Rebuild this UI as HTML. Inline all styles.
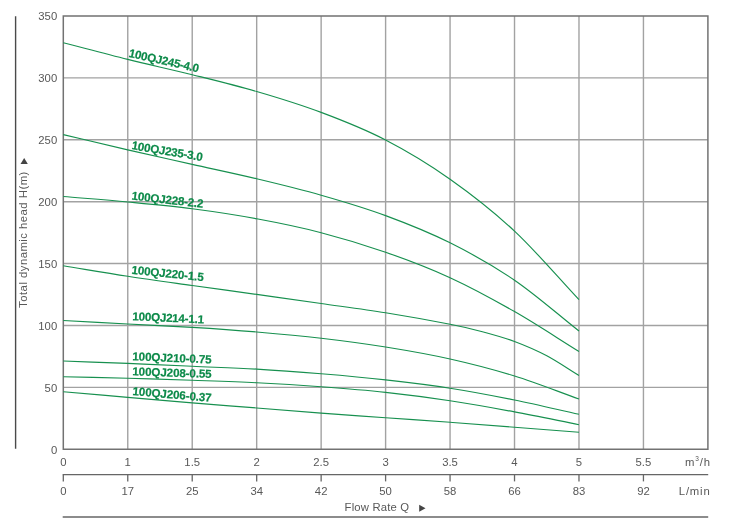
<!DOCTYPE html>
<html lang="en"><head><meta charset="utf-8"><title>100QJ2 Performance Curves</title>
<style>html,body{margin:0;padding:0;background:#fff}body{width:750px;height:532px;overflow:hidden}svg{display:block;will-change:transform}text{font-family:"Liberation Sans",sans-serif}.t{font-size:11.3px;fill:#585858}.l{font-size:11.6px;font-weight:bold;fill:#0c8a49;stroke:#0c8a49;stroke-width:0.2px}</style></head><body>
<svg width="750" height="532" viewBox="0 0 750 532">
<rect width="750" height="532" fill="#fff"/>
<g stroke="#a2a2a2" stroke-width="1.4" fill="none">
<line x1="127.76" y1="16.00" x2="127.76" y2="449.25"/>
<line x1="192.22" y1="16.00" x2="192.22" y2="449.25"/>
<line x1="256.68" y1="16.00" x2="256.68" y2="449.25"/>
<line x1="321.14" y1="16.00" x2="321.14" y2="449.25"/>
<line x1="385.60" y1="16.00" x2="385.60" y2="449.25"/>
<line x1="450.06" y1="16.00" x2="450.06" y2="449.25"/>
<line x1="514.52" y1="16.00" x2="514.52" y2="449.25"/>
<line x1="578.98" y1="16.00" x2="578.98" y2="449.25"/>
<line x1="643.44" y1="16.00" x2="643.44" y2="449.25"/>
<line x1="63.30" y1="77.89" x2="707.90" y2="77.89"/>
<line x1="63.30" y1="139.79" x2="707.90" y2="139.79"/>
<line x1="63.30" y1="201.68" x2="707.90" y2="201.68"/>
<line x1="63.30" y1="263.57" x2="707.90" y2="263.57"/>
<line x1="63.30" y1="325.46" x2="707.90" y2="325.46"/>
<line x1="63.30" y1="387.36" x2="707.90" y2="387.36"/>
</g>
<rect x="63.30" y="16.00" width="644.60" height="433.25" fill="none" stroke="#727272" stroke-width="1.5"/>
<g stroke="#17904f" stroke-width="1.15" fill="none">
<path d="M63.30 42.70 C84.79 48.27 106.27 54.07 127.76 59.40 C149.25 64.73 170.73 69.35 192.22 74.70 C213.71 80.05 235.19 85.22 256.68 91.50 C278.17 97.78 299.65 104.32 321.14 112.40 C342.63 120.48 364.11 128.87 385.60 140.00 C407.09 151.13 428.57 164.02 450.06 179.20 C471.55 194.38 493.03 211.02 514.52 231.10 C536.01 251.18 557.49 276.83 578.98 299.70"/>
<path d="M63.30 134.60 C84.79 139.70 106.27 144.93 127.76 149.90 C149.25 154.87 170.73 159.58 192.22 164.40 C213.71 169.22 235.19 173.67 256.68 178.80 C278.17 183.93 299.65 189.07 321.14 195.20 C342.63 201.33 364.11 207.67 385.60 215.60 C407.09 223.53 428.57 232.03 450.06 242.80 C471.55 253.57 493.03 265.50 514.52 280.20 C536.01 294.90 557.49 314.07 578.98 331.00"/>
<path d="M63.30 196.50 C84.79 198.33 106.27 199.95 127.76 202.00 C149.25 204.05 170.73 206.00 192.22 208.80 C213.71 211.60 235.19 214.82 256.68 218.80 C278.17 222.78 299.65 227.13 321.14 232.70 C342.63 238.27 364.11 244.70 385.60 252.20 C407.09 259.70 428.57 267.80 450.06 277.70 C471.55 287.60 493.03 299.30 514.52 311.60 C536.01 323.90 557.49 338.20 578.98 351.50"/>
<path d="M63.30 265.80 C84.79 269.30 106.27 273.02 127.76 276.30 C149.25 279.58 170.73 282.48 192.22 285.50 C213.71 288.52 235.19 291.40 256.68 294.40 C278.17 297.40 299.65 300.43 321.14 303.50 C342.63 306.57 364.11 309.33 385.60 312.80 C407.09 316.27 433.93 321.15 450.06 324.30 C466.19 327.45 471.66 328.83 482.40 331.70 C493.14 334.57 503.79 337.48 514.52 341.50 C525.25 345.52 536.06 350.12 546.80 355.80 C557.54 361.48 568.25 369.00 578.98 375.60"/>
<path d="M63.30 320.50 C84.79 321.67 106.27 322.85 127.76 324.00 C149.25 325.15 170.73 326.07 192.22 327.40 C213.71 328.73 235.19 330.20 256.68 332.00 C278.17 333.80 299.65 335.70 321.14 338.20 C342.63 340.70 364.11 343.53 385.60 347.00 C407.09 350.47 428.57 354.17 450.06 359.00 C471.55 363.83 493.03 369.33 514.52 376.00 C536.01 382.67 557.49 391.33 578.98 399.00"/>
<path d="M63.30 361.00 C84.79 361.80 106.27 362.52 127.76 363.40 C149.25 364.28 170.73 365.35 192.22 366.30 C213.71 367.25 235.19 367.85 256.68 369.10 C278.17 370.35 299.65 372.00 321.14 373.80 C342.63 375.60 364.11 377.50 385.60 379.90 C407.09 382.30 428.57 384.85 450.06 388.20 C471.55 391.55 493.03 395.65 514.52 400.00 C536.01 404.35 557.49 409.53 578.98 414.30"/>
<path d="M63.30 376.70 C84.79 377.20 106.27 377.60 127.76 378.20 C149.25 378.80 170.73 379.53 192.22 380.30 C213.71 381.07 235.19 381.72 256.68 382.80 C278.17 383.88 299.65 385.20 321.14 386.80 C342.63 388.40 364.11 390.07 385.60 392.40 C407.09 394.73 428.57 397.55 450.06 400.80 C471.55 404.05 493.03 407.92 514.52 411.90 C536.01 415.88 557.49 420.43 578.98 424.70"/>
<path d="M63.30 391.70 C84.79 393.60 106.27 395.53 127.76 397.40 C149.25 399.27 170.73 401.13 192.22 402.90 C213.71 404.67 235.19 406.30 256.68 408.00 C278.17 409.70 299.65 411.48 321.14 413.10 C342.63 414.72 364.11 416.17 385.60 417.70 C407.09 419.23 428.57 420.70 450.06 422.30 C471.55 423.90 493.03 425.63 514.52 427.30 C536.01 428.97 557.49 430.63 578.98 432.30"/>
</g>
<text class="l" transform="translate(128.20 56.70) rotate(12.70)" textLength="71.6" lengthAdjust="spacing">100QJ245-4.0</text>
<text class="l" transform="translate(131.20 149.10) rotate(9.50)" textLength="71.8" lengthAdjust="spacing">100QJ235-3.0</text>
<text class="l" transform="translate(131.20 199.50) rotate(6.60)" textLength="72.3" lengthAdjust="spacing">100QJ228-2.2</text>
<text class="l" transform="translate(131.20 273.70) rotate(5.90)" textLength="72.5" lengthAdjust="spacing">100QJ220-1.5</text>
<text class="l" transform="translate(132.30 320.30) rotate(2.50)" textLength="71.6" lengthAdjust="spacing">100QJ214-1.1</text>
<text class="l" transform="translate(132.30 360.30) rotate(2.30)" textLength="79.3" lengthAdjust="spacing">100QJ210-0.75</text>
<text class="l" transform="translate(132.30 375.30) rotate(2.00)" textLength="79.3" lengthAdjust="spacing">100QJ208-0.55</text>
<text class="l" transform="translate(132.30 395.00) rotate(5.00)" textLength="79.3" lengthAdjust="spacing">100QJ206-0.37</text>
<line x1="15.6" y1="16.3" x2="15.6" y2="448.8" stroke="#4a4a4a" stroke-width="1.4"/>
<g stroke="#666" stroke-width="1.3" fill="none">
<line x1="62.70" y1="474.6" x2="708.20" y2="474.6"/>
<line x1="63.30" y1="474.6" x2="63.30" y2="481.4"/>
<line x1="127.76" y1="474.6" x2="127.76" y2="481.4"/>
<line x1="192.22" y1="474.6" x2="192.22" y2="481.4"/>
<line x1="256.68" y1="474.6" x2="256.68" y2="481.4"/>
<line x1="321.14" y1="474.6" x2="321.14" y2="481.4"/>
<line x1="385.60" y1="474.6" x2="385.60" y2="481.4"/>
<line x1="450.06" y1="474.6" x2="450.06" y2="481.4"/>
<line x1="514.52" y1="474.6" x2="514.52" y2="481.4"/>
<line x1="578.98" y1="474.6" x2="578.98" y2="481.4"/>
<line x1="643.44" y1="474.6" x2="643.44" y2="481.4"/>
<line x1="62.70" y1="517" x2="708.20" y2="517" stroke="#666" stroke-width="1.3"/>
</g>
<text class="t" x="57.2" y="20.30" text-anchor="end">350</text>
<text class="t" x="57.2" y="82.19" text-anchor="end">300</text>
<text class="t" x="57.2" y="144.09" text-anchor="end">250</text>
<text class="t" x="57.2" y="205.98" text-anchor="end">200</text>
<text class="t" x="57.2" y="267.87" text-anchor="end">150</text>
<text class="t" x="57.2" y="329.76" text-anchor="end">100</text>
<text class="t" x="57.2" y="391.66" text-anchor="end">50</text>
<text class="t" x="57.2" y="453.55" text-anchor="end">0</text>
<text class="t" x="63.30" y="466.1" text-anchor="middle">0</text>
<text class="t" x="63.30" y="495.1" text-anchor="middle">0</text>
<text class="t" x="127.76" y="466.1" text-anchor="middle">1</text>
<text class="t" x="127.76" y="495.1" text-anchor="middle">17</text>
<text class="t" x="192.22" y="466.1" text-anchor="middle">1.5</text>
<text class="t" x="192.22" y="495.1" text-anchor="middle">25</text>
<text class="t" x="256.68" y="466.1" text-anchor="middle">2</text>
<text class="t" x="256.68" y="495.1" text-anchor="middle">34</text>
<text class="t" x="321.14" y="466.1" text-anchor="middle">2.5</text>
<text class="t" x="321.14" y="495.1" text-anchor="middle">42</text>
<text class="t" x="385.60" y="466.1" text-anchor="middle">3</text>
<text class="t" x="385.60" y="495.1" text-anchor="middle">50</text>
<text class="t" x="450.06" y="466.1" text-anchor="middle">3.5</text>
<text class="t" x="450.06" y="495.1" text-anchor="middle">58</text>
<text class="t" x="514.52" y="466.1" text-anchor="middle">4</text>
<text class="t" x="514.52" y="495.1" text-anchor="middle">66</text>
<text class="t" x="578.98" y="466.1" text-anchor="middle">5</text>
<text class="t" x="578.98" y="495.1" text-anchor="middle">83</text>
<text class="t" x="643.44" y="466.1" text-anchor="middle">5.5</text>
<text class="t" x="643.44" y="495.1" text-anchor="middle">92</text>
<text class="t" x="684.9" y="466.1" textLength="25.1" lengthAdjust="spacing">m<tspan font-size="6.5px" dy="-5.2">3</tspan><tspan dy="5.2">/h</tspan></text>
<text class="t" x="678.8" y="495.1" textLength="30.9" lengthAdjust="spacing">L/min</text>
<text class="t" x="344.6" y="511.3" textLength="64.4" lengthAdjust="spacing">Flow Rate Q</text>
<polygon points="419.2,504.7 419.2,511.8 425.5,508.25" fill="#444"/>
<text class="t" transform="translate(26.8 307.9) rotate(-90)" textLength="136.2" lengthAdjust="spacing">Total dynamic head H(m)</text>
<polygon points="24.2,157.9 20.5,164 27.8,164" fill="#444"/>
</svg></body></html>
